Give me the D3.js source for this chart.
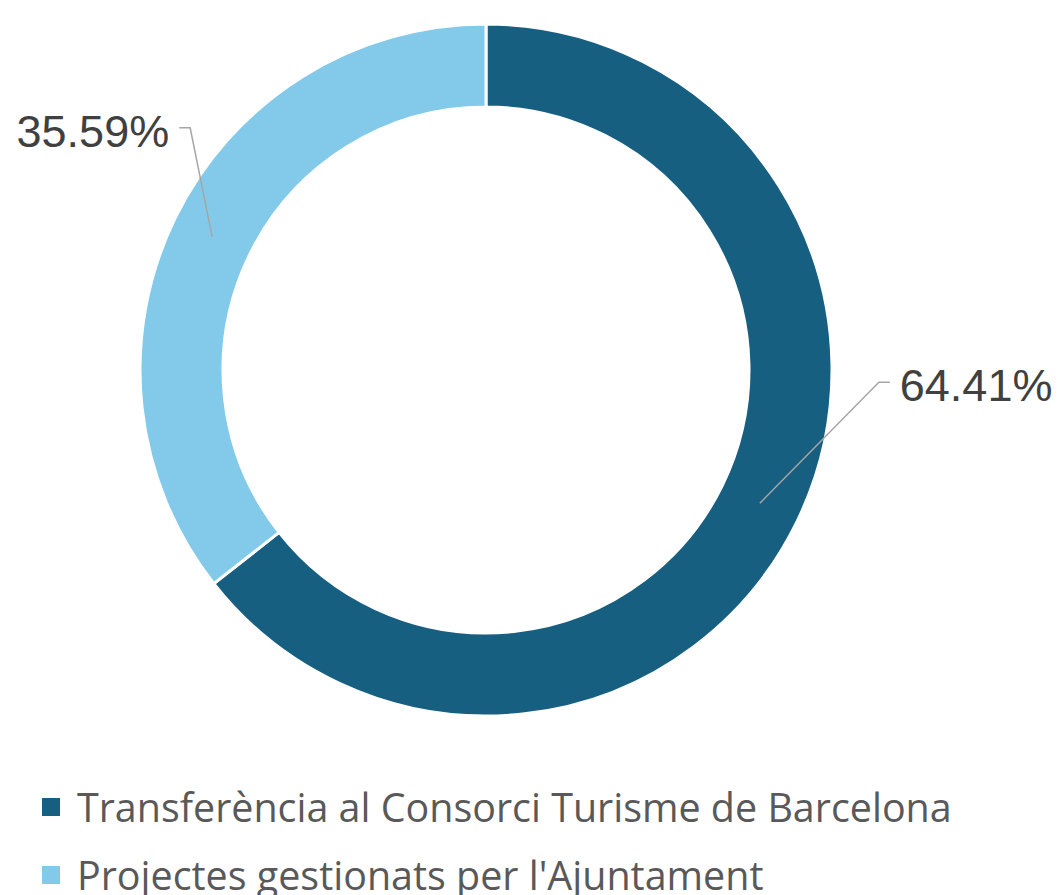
<!DOCTYPE html>
<html>
<head>
<meta charset="utf-8">
<script src="https://cdn.jsdelivr.net/npm/d3@7"></script>
<style>
  body { margin: 0; background: #fff; }
  svg { display: block; }
</style>
</head>
<body>
<div id="chart"></div>
<script>
var width = 1060, height = 895;

// data
var categories = ["Transferència al Consorci Turisme de Barcelona", "Projectes gestionats per l'Ajuntament"];
var values = [64.41, 35.59];
var colors = ["#175F80", "#83CAEA"];

var cx = 486, cy = 370;
var outerR = 346, innerR = 263;

var svg = d3.select("#chart").append("svg")
    .attr("width", width)
    .attr("height", height);

var data = categories.map(function(c, i) { return {name: c, value: values[i], color: colors[i]}; });

var pie = d3.pie()
    .sort(null)
    .value(function(d) { return d.value; });

var arc = d3.arc()
    .innerRadius(innerR)
    .outerRadius(outerR);

var g = svg.append("g").attr("transform", "translate(" + cx + "," + cy + ")");

var slices = pie(data);

g.selectAll("path.slice")
    .data(slices)
  .enter().append("path")
    .attr("class", "slice")
    .attr("d", arc)
    .attr("fill", function(d) { return d.data.color; })
    .attr("stroke", "#fff")
    .attr("stroke-width", 3);

// labels with leader lines (elbow offsets relative to slice centroid)
var labelLayout = [
  {dx: 119, dy: -121, side: "right"},
  {dx: -22, dy: -109, side: "left"}
];

slices.forEach(function(d, i) {
  var c = arc.centroid(d);
  var L = labelLayout[i];
  var ex = c[0] + L.dx, ey = c[1] + L.dy;
  var hx = L.side === "right" ? ex + 11 : ex - 11;
  g.append("polyline")
      .attr("points", [c, [ex, ey], [hx, ey]].map(function(p) { return p.join(","); }).join(" "))
      .attr("fill", "none")
      .attr("stroke", "#A6A6A6")
      .attr("stroke-width", 1.5);
  g.append("text")
      .attr("x", L.side === "right" ? hx + 10 : hx - 10)
      .attr("y", ey + 19)
      .attr("text-anchor", L.side === "right" ? "start" : "end")
      .attr("font-family", "Liberation Sans, Arial, sans-serif")
      .attr("font-size", 45)
      .attr("fill", "#404040")
      .text(d3.format(".2f")(d.data.value) + "%");
});

// legend
var legend = svg.append("g").attr("class", "legend");
var rowY = [807, 875];

data.forEach(function(d, i) {
  legend.append("rect")
      .attr("x", 42)
      .attr("y", rowY[i] - 9)
      .attr("width", 18)
      .attr("height", 18)
      .attr("fill", d.color);
  legend.append("text")
      .attr("class", "legtext")
      .attr("x", 77)
      .attr("y", rowY[i] + 15)
      .attr("font-family", "Open Sans, sans-serif")
      .attr("font-size", 36)
      .attr("fill", "#595959")
      .text(d.name);
});

// fit legend font to target width of first entry
var first = legend.select(".legtext").node();
var w = first.getComputedTextLength();
var fs = 36 * 875 / w;
legend.selectAll(".legtext").attr("font-size", fs);
</script>
</body>
</html>
